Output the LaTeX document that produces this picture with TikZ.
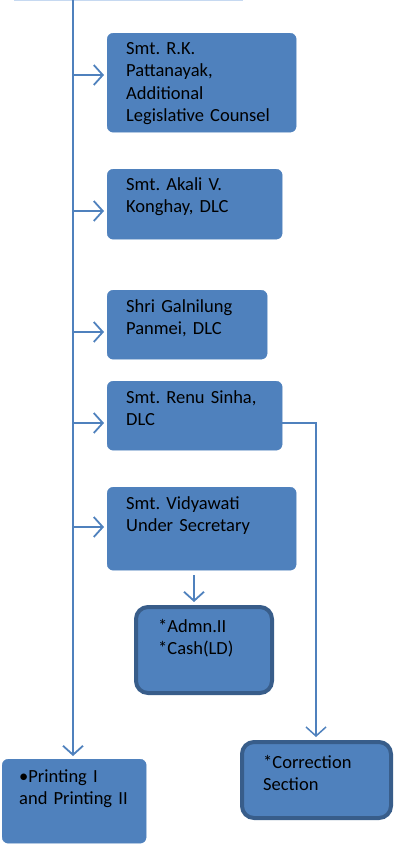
\documentclass[tikz,border=0pt]{standalone}
\usepackage{fontspec}
\setmainfont{Carlito}
\usepackage{tikz}
\usetikzlibrary{arrows.meta, positioning, calc}
\definecolor{offblue}{HTML}{4F81BD}
\definecolor{offdark}{HTML}{385D8A}
\definecolor{offlight}{HTML}{C6D9F1}

\begin{document}
\begin{tikzpicture}[
			x=1pt, y=-1pt,
			>={Straight Barb[length=9pt, width=20pt]},
			box/.style={draw=offblue, fill=offblue, rounded corners=6pt, anchor=north west, inner sep=0pt},
			boldbox/.style={draw=offdark, line width=4pt, fill=offblue, rounded corners=12pt, anchor=north west, inner sep=0pt},
			txt/.style={anchor=base west, inner sep=0pt, text width=180pt, align=left, font=\fontsize{18.5}{22.5}\selectfont\frenchspacing},
			link/.style={draw=offblue, line width=1.8pt, ->, shorten >=3pt}
			]
			\useasboundingbox (0,0) rectangle (394,844);
			% --- Pudełka (bloki schematu) ---
			\node[box, minimum width=189, minimum height=99] (rk) at (107,33) {};
			\node[txt] (rkText) at (126,54) {Smt. R.K.\\Pattanayak,\\Additional\\Legislative Counsel};
			\node[box, minimum width=175, minimum height=70] (akali) at (107,169) {};
			\node[txt] (akaliText) at (126,190) {Smt. Akali V.\\Konghay, DLC};
			\node[box, minimum width=160, minimum height=69] (galni) at (107,290) {};
			\node[txt] (galniText) at (126,312) {Shri Galnilung\\Panmei, DLC};
			\node[box, minimum width=175, minimum height=69] (renu) at (107,381) {};
			\node[txt] (renuText) at (126,403) {Smt. Renu Sinha,\\DLC};
			\node[box, minimum width=189, minimum height=83] (vidya) at (107,487) {};
			\node[txt] (vidyaText) at (126,509) {Smt. Vidyawati\\Under Secretary};
			\node[boldbox, minimum width=136, minimum height=86] (admn) at (134,605) {};
			\node[txt] (admnText) at (158,632) {*Admn.II\\{*}Cash(LD)};
			\node[box, minimum width=144, minimum height=84] (print) at (2,759) {};
			\node[txt] (printText) at (19,782) {\textbullet Printing I\\and Printing II};
			\node[boldbox, minimum width=149, minimum height=76] (corr) at (240,740) {};
			\node[txt] (corrText) at (263,768) {*Correction\\Section};
			
			% --- Punkty pomocnicze ---
			\coordinate (top) at (73,0);
			\coordinate (b1) at (73,75);
			\coordinate (b2) at (73,211);
			\coordinate (b3) at (73,332);
			\coordinate (b4) at (73,423);
			\coordinate (b5) at (73,527);
			\coordinate (renuOut) at (270,423);
			\coordinate (corrIn) at (316,423);
			\coordinate (vidyaOut) at (194,575);
			
			% --- Linie i strzałki ---
			\draw[offlight, line width=1.5pt] (14,0.5) -- (243,0.5);
			\draw[link] (top) -- (print.north -| top);
			\draw[link] (b1) -- (b1 -| rk.west);
			\draw[link] (b2) -- (b2 -| akali.west);
			\draw[link] (b3) -- (b3 -| galni.west);
			\draw[link] (b4) -- (b4 -| renu.west);
			\draw[link] (b5) -- (b5 -| vidya.west);
			\draw[link] (vidyaOut) -- (vidyaOut |- admn.north);
			\draw[link, line width=1.5pt] (renuOut) -- (corrIn) -- (corrIn |- corr.north);
		\end{tikzpicture}
\end{document}
